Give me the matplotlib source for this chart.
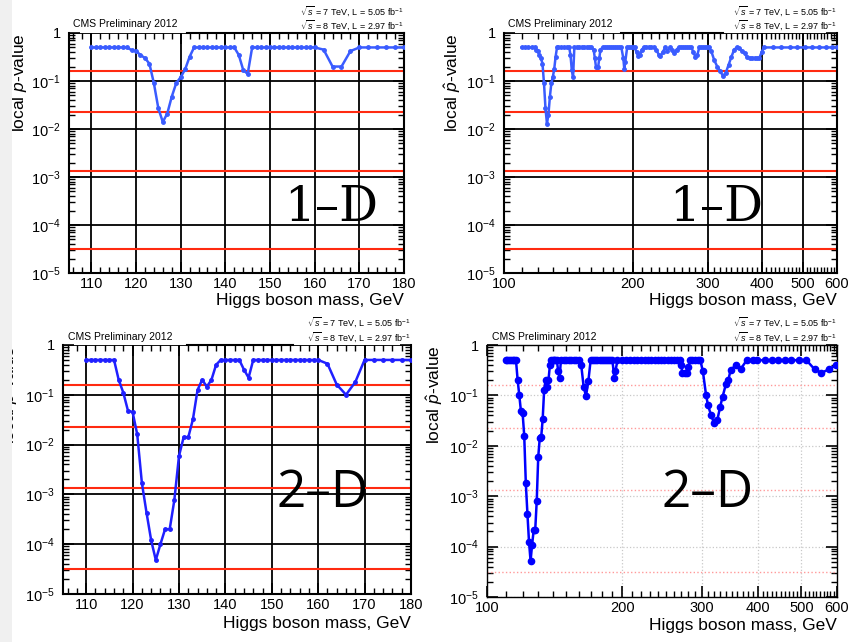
import matplotlib
matplotlib.use('Agg')
import matplotlib.pyplot as plt
from matplotlib.ticker import FixedLocator, FixedFormatter, MultipleLocator, LogLocator, NullFormatter
from matplotlib.patches import Rectangle

plt.rcParams['font.family'] = ['Liberation Sans', 'DejaVu Sans']
plt.rcParams['mathtext.fontset'] = 'custom'
plt.rcParams['mathtext.rm'] = 'Liberation Sans'
plt.rcParams['mathtext.it'] = 'Liberation Sans:italic'
plt.rcParams['mathtext.bf'] = 'Liberation Sans:bold'

# one-sided p-values for 1,2,3,4 sigma
sigma_pvals = [0.1587, 0.02275, 0.00135, 3.17e-5]

y_ticks = [1e-5, 1e-4, 1e-3, 1e-2, 1e-1, 1]
y_ticklabels = ['$10^{-5}$', '$10^{-4}$', '$10^{-3}$', '$10^{-2}$', '$10^{-1}$', '1']
x_ticks_low = [110, 120, 130, 140, 150, 160, 170, 180]
x_ticks_high = [100, 200, 300, 400, 500, 600]

# 1-D, low mass
mass_1d_low = [110, 111, 112, 113, 114, 115, 116, 117, 118,
               119, 120, 121, 122, 123, 124, 125, 126, 127, 128, 129, 130, 131, 132, 133,
               134, 135, 136, 137, 138, 139, 140, 141, 142, 143, 144, 145,
               146, 147, 148, 149, 150, 151, 152, 153, 154, 155, 156, 157, 158, 159, 160,
               162, 164, 166, 168, 170, 172, 174, 176, 178, 180]
pval_1d_low = [0.5, 0.5, 0.5, 0.5, 0.5, 0.5, 0.5, 0.5, 0.5,
               0.44, 0.42, 0.35, 0.3, 0.23, 0.09, 0.027, 0.014, 0.021, 0.047, 0.09, 0.12, 0.175, 0.32, 0.5,
               0.5, 0.5, 0.5, 0.5, 0.5, 0.5, 0.5, 0.5, 0.5, 0.35, 0.17, 0.14,
               0.5, 0.5, 0.5, 0.5, 0.5, 0.5, 0.5, 0.5, 0.5, 0.5, 0.5, 0.5, 0.5, 0.5, 0.5,
               0.45, 0.2, 0.2, 0.42, 0.5, 0.5, 0.5, 0.5, 0.5, 0.5]

# 1-D, full mass range
mass_1d_high = [110, 112, 114, 116, 118, 119, 120, 121, 122, 123, 124, 125, 126, 127, 128, 129, 130, 131, 132, 133,
                134, 136, 138, 140, 142, 143, 144, 145, 146, 148, 150, 152, 154, 156, 158, 160,
                162, 163, 164, 165, 166, 167, 168, 170, 172, 174, 176, 178, 180, 182, 184, 186, 188,
                190, 191, 192, 194, 196, 198, 200, 202, 204, 206, 208, 210, 212, 215, 218, 221, 224,
                227, 230, 232, 235, 238, 241, 244, 247, 250, 253, 256, 259, 262, 265, 268, 271, 274,
                277, 280, 283, 286, 289, 292, 295, 298, 301, 305, 310, 315, 320, 325, 330, 335, 340,
                345, 350, 355, 360, 365, 370, 375, 380, 385, 390, 395, 400, 405,
                425, 445, 465, 485, 505, 525, 545, 565, 585, 600]
pval_1d_high = [0.5, 0.5, 0.5, 0.5, 0.5, 0.44, 0.42, 0.35, 0.3, 0.23, 0.09, 0.027, 0.013, 0.02, 0.047, 0.09, 0.12, 0.175, 0.32, 0.5,
                0.5, 0.5, 0.5, 0.5, 0.5, 0.35, 0.17, 0.12, 0.5, 0.5, 0.5, 0.5, 0.5, 0.5, 0.5, 0.5,
                0.45, 0.3, 0.2, 0.2, 0.2, 0.3, 0.45, 0.5, 0.5, 0.5, 0.5, 0.5, 0.5, 0.5, 0.5, 0.5, 0.5,
                0.3, 0.18, 0.25, 0.5, 0.5, 0.5, 0.5, 0.5, 0.4, 0.33, 0.35, 0.45, 0.5, 0.5, 0.5, 0.5, 0.5,
                0.45, 0.35, 0.33, 0.4, 0.5, 0.42, 0.5, 0.45, 0.38, 0.45, 0.5, 0.5, 0.5, 0.5, 0.5, 0.5, 0.5,
                0.4, 0.32, 0.35, 0.5, 0.5, 0.5, 0.5, 0.5, 0.5, 0.42, 0.27, 0.2, 0.16, 0.127, 0.15, 0.22, 0.32,
                0.45, 0.5, 0.48, 0.42, 0.38, 0.31, 0.3, 0.3, 0.3, 0.3, 0.3, 0.4, 0.5,
                0.5, 0.5, 0.5, 0.5, 0.5, 0.5, 0.5, 0.5, 0.5, 0.5]

# 2-D, low mass
mass_2d_low = [110, 111, 112, 113, 114, 115, 116,
               117, 118, 119, 120, 121, 122, 123, 124, 125, 126, 127, 128, 129, 130, 131, 132, 133,
               134, 135, 136, 137, 138, 139, 140, 141, 142, 143, 144, 145,
               146, 147, 148, 149, 150, 151, 152, 153, 154, 155, 156, 157, 158, 159, 160,
               162, 164, 166, 168, 170, 172, 174, 176, 178, 180]
pval_2d_low = [0.5, 0.5, 0.5, 0.5, 0.5, 0.5, 0.5,
               0.2, 0.11, 0.048, 0.045, 0.016, 0.0017, 4.3e-4, 1.2e-4, 4.8e-5, 1.0e-4, 2.0e-4, 2.0e-4, 7.7e-4,
               5.9e-3, 0.014, 0.014, 0.032,
               0.125, 0.2, 0.145, 0.2, 0.4, 0.5, 0.5, 0.5, 0.5, 0.5, 0.32, 0.22,
               0.5, 0.5, 0.5, 0.5, 0.5, 0.5, 0.5, 0.5, 0.5, 0.5, 0.5, 0.5, 0.5, 0.5, 0.5,
               0.42, 0.16, 0.1, 0.18, 0.5, 0.5, 0.5, 0.5, 0.5, 0.5]

# 2-D, full mass range
mass_2d_high = [110, 111, 112, 113, 114, 115, 116, 117, 118, 119, 120, 121, 122, 123, 124, 125, 126, 127, 128, 129,
                130, 131, 132, 133, 134, 135, 136, 137, 138, 139, 140, 141, 142, 143, 144, 145, 146, 148, 150, 152,
                154, 156, 158, 160, 162, 164, 166, 168, 170, 172, 174, 176, 178, 180, 182, 184, 186, 188, 190, 192,
                193, 195, 200, 204, 208, 212, 216, 220, 224, 228, 232, 236, 240, 244, 248, 252, 256, 260, 264, 268,
                270, 272, 275, 278, 280, 283, 286, 290, 294, 298, 302, 307, 310, 315, 320, 325, 330, 334, 340, 344,
                348, 358, 367, 378, 391, 399, 415, 430, 444, 459, 475, 494, 513, 535, 554, 576, 598]
pval_2d_high = [0.5, 0.5, 0.5, 0.5, 0.5, 0.5, 0.5, 0.2, 0.1, 0.048, 0.045, 0.016, 0.0018, 4.5e-4, 1.25e-4, 5.2e-5, 1.1e-4, 2.1e-4, 2.1e-4, 8e-4,
                6e-3, 0.014, 0.015, 0.034, 0.13, 0.2, 0.15, 0.2, 0.4, 0.5, 0.5, 0.5, 0.5, 0.5, 0.3, 0.22, 0.5, 0.5, 0.5, 0.5,
                0.5, 0.5, 0.5, 0.5, 0.4, 0.15, 0.097, 0.19, 0.5, 0.5, 0.5, 0.5, 0.5, 0.5, 0.5, 0.5, 0.5, 0.5, 0.5, 0.22,
                0.3, 0.5, 0.5, 0.5, 0.5, 0.5, 0.5, 0.5, 0.5, 0.5, 0.5, 0.5, 0.5, 0.5, 0.5, 0.5, 0.5, 0.5, 0.5, 0.5,
                0.4, 0.28, 0.28, 0.28, 0.37, 0.5, 0.5, 0.5, 0.5, 0.5, 0.3, 0.1, 0.064, 0.04, 0.028, 0.032, 0.06, 0.094, 0.17, 0.2,
                0.32, 0.4, 0.34, 0.5, 0.5, 0.5, 0.5, 0.5, 0.5, 0.5, 0.5, 0.5, 0.5, 0.33, 0.28, 0.33, 0.4]


def setup(ax, high, light=False):
    ax.set_yscale('log')
    ax.set_ylim(1e-5, 1)
    ax.yaxis.set_major_locator(FixedLocator(y_ticks))
    ax.yaxis.set_major_formatter(FixedFormatter(y_ticklabels))
    ax.yaxis.set_minor_locator(LogLocator(base=10, subs=range(2, 10)))
    ax.yaxis.set_minor_formatter(NullFormatter())
    if high:
        ax.set_xscale('log')
        ax.set_xlim(100, 600)
        ax.xaxis.set_major_locator(FixedLocator(x_ticks_high))
        ax.xaxis.set_major_formatter(FixedFormatter([str(v) for v in x_ticks_high]))
        ax.xaxis.set_minor_locator(FixedLocator([v for v in range(110, 600, 10) if v % 100 != 0]))
        ax.xaxis.set_minor_formatter(NullFormatter())
    else:
        ax.set_xlim(105, 180)
        ax.xaxis.set_major_locator(FixedLocator(x_ticks_low))
        ax.xaxis.set_minor_locator(MultipleLocator(2))
    ax.tick_params(which='both', direction='in', top=True, right=True, labelsize=10.5)
    ax.tick_params(which='major', length=8, width=1.2)
    ax.tick_params(which='minor', length=4, width=1.0)
    ax.tick_params(axis='x', pad=3)
    ax.tick_params(axis='y', pad=6)
    if light:
        ax.grid(True, which='major', color='#c8c8c8', lw=0.9, ls=':')
        for p in sigma_pvals:
            ax.axhline(p, color='#ff9999', lw=1.0, ls=':', zorder=1)
        for s in ax.spines.values():
            s.set_linewidth(1.0)
    else:
        ax.grid(True, which='major', color='black', lw=1.3)
        for p in sigma_pvals:
            ax.axhline(p, color='#ff2a10', lw=1.5, zorder=1)
        for s in ax.spines.values():
            s.set_linewidth(1.5)
    ax.set_axisbelow(True)
    ax.set_xlabel('Higgs boson mass, GeV', fontsize=12.5, loc='right')
    ax.set_ylabel('local $\\hat{p}$-value', fontsize=12.5, loc='top')


def header(ax, y1, y2, yc):
    ax.text(0.013, yc, 'CMS Preliminary 2012', transform=ax.transAxes, fontsize=7.5,
            ha='left', va='baseline')
    ax.text(1.0, y1, r'$\sqrt{s}$ = 7 TeV, L = 5.05 fb$^{-1}$', transform=ax.transAxes,
            fontsize=6.5, ha='right', va='center')
    ax.text(1.0, y2, r'$\sqrt{s}$ = 8 TeV, L = 2.97 fb$^{-1}$', transform=ax.transAxes,
            fontsize=6.5, ha='right', va='center')


fig = plt.figure(figsize=(8.56, 6.42), dpi=100)
fig.patch.set_facecolor('white')

ax1 = fig.add_axes([0.0806, 0.5748, 0.3914, 0.3738])
ax2 = fig.add_axes([0.5888, 0.5748, 0.3890, 0.3738])
ax3 = fig.add_axes([0.0736, 0.0748, 0.4065, 0.3879])
ax4 = fig.add_axes([0.5689, 0.0701, 0.4089, 0.3925])

# top left: 1-D low mass
setup(ax1, False)
ax1.plot(mass_1d_low, pval_1d_low, color='#3a5cff', lw=1.8, marker='o', ms=2.5, zorder=3)
ax1.spines['top'].set_bounds(131.4, 180)
header(ax1, 1.092, 1.033, 1.025)
ax1.text(0.782, 0.271, '1\u2013D', transform=ax1.transAxes, fontsize=35,
         family='DejaVu Serif', ha='center', va='center')
ax1.xaxis.set_label_coords(1.0, -0.083)
ax1.yaxis.set_label_coords(-0.115, 1.0)

# top right: 1-D full range
setup(ax2, True)
ax2.plot(mass_1d_high, pval_1d_high, color='#3a5cff', lw=1.8, marker='o', ms=2.5, zorder=3)
ax2.spines['top'].set_bounds(188, 325)
header(ax2, 1.092, 1.033, 1.025)
ax2.text(0.637, 0.271, '1\u2013D', transform=ax2.transAxes, fontsize=35,
         family='DejaVu Serif', ha='center', va='center')
ax2.xaxis.set_label_coords(1.0, -0.083)
ax2.yaxis.set_label_coords(-0.123, 1.0)

# bottom left: 2-D low mass
setup(ax3, False)
ax3.plot(mass_2d_low, pval_2d_low, color='#2020ff', lw=1.8, marker='o', ms=2.5, zorder=3)
ax3.spines['top'].set_bounds(131.8, 154.6)
header(ax3, 1.092, 1.032, 1.02)
ax3.text(0.747, 0.402, '2\u2013D', transform=ax3.transAxes, fontsize=37,
         family='Open Sans', ha='center', va='center')
ax3.xaxis.set_label_coords(1.0, -0.088)
ax3.yaxis.set_label_coords(-0.124, 1.0)

# bottom right: 2-D full range
setup(ax4, True, light=True)
ax4.plot(mass_2d_high, pval_2d_high, color='#0000ff', lw=1.8, marker='o', ms=4.5, zorder=3)
header(ax4, 1.091, 1.032, 1.02)
ax4.text(0.631, 0.409, '2\u2013D', transform=ax4.transAxes, fontsize=37,
         family='Open Sans', ha='center', va='center')
ax4.xaxis.set_label_coords(1.0, -0.083)
ax4.yaxis.set_label_coords(-0.12, 1.0)

# light strip at the left edge of the screenshot
fig.add_artist(Rectangle((0, 0), 12 / 856, 1, transform=fig.transFigure,
                         facecolor='#f0f0f0', edgecolor='none', zorder=20))

fig.savefig('out.png', dpi=100)
